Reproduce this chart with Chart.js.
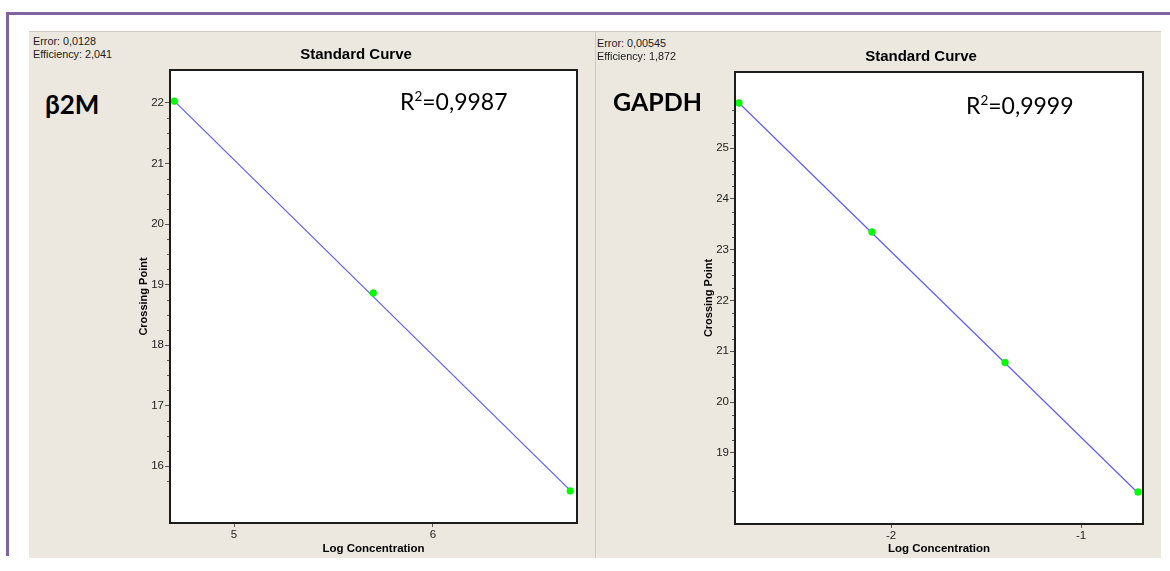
<!DOCTYPE html>
<html>
<head>
<meta charset="utf-8">
<script src="https://cdn.jsdelivr.net/npm/chart.js@4.4.1/dist/chart.umd.min.js"></script>
<style>
  html, body { margin:0; padding:0; background:#fff; }
  body { width:1170px; height:571px; position:relative; overflow:hidden; }
  .abs { position:absolute; }
  .frameTop { left:6px; top:12px; width:1164px; height:3px; background:#8064a2; }
  .frameLeft { left:6px; top:12px; width:3px; height:544px; background:#8064a2; }
  .panel { background:#ede8df; border-top:1px solid #d2cec6; box-sizing:border-box; }
  .info { font-family:"Liberation Sans", Arial, sans-serif; font-size:10.8px; line-height:1; color:#1a1a1a; white-space:nowrap; }
  .gene { font-family:Lato, "Open Sans", sans-serif; font-weight:bold; font-size:25px; line-height:1; color:#000; white-space:nowrap; }
  .r2 { font-family:Lato, "Open Sans", sans-serif; font-size:23px; line-height:1; color:#000; white-space:nowrap; }
  .r2 .sup { font-size:13.5px; position:relative; top:-9.5px; }
  canvas { position:absolute; }
</style>
</head>
<body>
<div class="abs frameTop"></div>
<div class="abs frameLeft"></div>

<div class="abs panel" style="left:29px;top:31px;width:566px;height:527px;"></div>
<div class="abs panel" style="left:595px;top:31px;width:566px;height:527px;border-left:1px solid #cdc9c1;"></div>

<canvas id="cB2M" width="459" height="526" style="left:135px;top:32px;"></canvas>
<canvas id="cGAPDH" width="462" height="526" style="left:699px;top:32px;"></canvas>

<div class="abs info" style="left:33px;top:36px;">Error: 0,0128</div>
<div class="abs info" style="left:33px;top:49px;">Efficiency: 2,041</div>
<div class="abs gene" style="left:45px;top:91px;font-size:26px;">β2M</div>
<div class="abs r2" style="left:400px;top:90px;">R<span class="sup">2</span>=0,9987</div>

<div class="abs info" style="left:597px;top:38px;">Error: 0,00545</div>
<div class="abs info" style="left:597px;top:51px;">Efficiency: 1,872</div>
<div class="abs gene" style="left:613px;top:89px;">GAPDH</div>
<div class="abs r2" style="left:966px;top:94px;">R<span class="sup">2</span>=0,9999</div>

<script>
// ---- data ----
const b2mLogConc   = [4.70, 5.70, 6.69];
const b2mCrossing  = [22.03, 18.86, 15.59];
const b2mFitX      = [4.70, 6.69];
const b2mFitY      = [22.03, 15.60];
const b2mXTicks    = [5, 6];
const b2mYTicks    = [16, 17, 18, 19, 20, 21, 22];
const b2mYMinor    = [15.75, 16.25, 16.5, 16.75, 17.25, 17.5, 17.75, 18.25, 18.5, 18.75,
                      19.25, 19.5, 19.75, 20.25, 20.5, 20.75, 21.25, 21.5, 21.75];

const gapdhLogConc  = [-2.80, -2.10, -1.40, -0.70];
const gapdhCrossing = [25.89, 23.35, 20.78, 18.23];
const gapdhFitX     = [-2.80, -0.70];
const gapdhFitY     = [25.89, 18.21];
const gapdhXTicks   = [-2, -1];
const gapdhYTicks   = [19, 20, 21, 22, 23, 24, 25];
const gapdhYMinor   = [18.25, 18.5, 18.75, 19.25, 19.5, 19.75, 20.25, 20.5, 20.75, 21.25, 21.5, 21.75,
                       22.25, 22.5, 22.75, 23.25, 23.5, 23.75, 24.25, 24.5, 24.75, 25.25, 25.5, 25.75];

const SANS = '"Liberation Sans", Arial, sans-serif';

function makeChart(id, cfg) {
  const framePlugin = {
    id: 'frame' + id,
    beforeDraw(chart) {
      const {ctx, chartArea: a} = chart;
      ctx.save();
      ctx.fillStyle = '#ffffff';
      ctx.fillRect(a.left, a.top, a.right - a.left, a.bottom - a.top);
      ctx.restore();
    },
    afterDraw(chart) {
      const {ctx, chartArea: a} = chart;
      const ys = chart.scales.y;
      ctx.save();
      ctx.strokeStyle = '#555';
      ctx.lineWidth = 1;
      ctx.beginPath();
      cfg.yMinor.forEach(v => {
        const py = Math.round(ys.getPixelForValue(v)) + 0.5;
        ctx.moveTo(a.left - 3, py);
        ctx.lineTo(a.left, py);
      });
      ctx.stroke();
      ctx.strokeStyle = '#1c1c1c';
      ctx.lineWidth = 2;
      ctx.strokeRect(a.left, a.top, a.right - a.left, a.bottom - a.top);
      ctx.restore();
    }
  };
  return new Chart(document.getElementById(id), {
    type: 'scatter',
    data: {
      datasets: [
        {
          label: 'points',
          data: cfg.x.map((v, i) => ({x: v, y: cfg.y[i]})),
          pointStyle: 'circle',
          pointRadius: 3.4,
          pointBackgroundColor: '#00ff00',
          pointBorderColor: '#00ee00',
          pointBorderWidth: 0.5,
          showLine: false
        },
        {
          label: 'fit',
          data: cfg.fitX.map((v, i) => ({x: v, y: cfg.fitY[i]})),
          showLine: true,
          pointRadius: 0,
          borderColor: '#5c5cff',
          borderWidth: 1.2,
          fill: false
        }
      ]
    },
    options: {
      responsive: false,
      animation: false,
      devicePixelRatio: 1,
      events: [],
      layout: {padding: {left: 0, right: cfg.padRight, top: 0, bottom: 0}},
      plugins: {
        legend: {display: false},
        tooltip: {enabled: false},
        title: {
          display: true,
          text: 'Standard Curve',
          color: '#000',
          font: {family: SANS, size: 15, weight: 'bold'},
          padding: {top: cfg.titleTop, bottom: cfg.titleBottom}
        }
      },
      scales: {
        x: {
          type: 'linear',
          position: 'bottom',
          min: cfg.xMin,
          max: cfg.xMax,
          afterBuildTicks: s => { s.ticks = cfg.xTicks.map(v => ({value: v})); },
          afterFit: s => { s.height = cfg.xAxisH; },
          ticks: {callback: v => String(v), color: '#222', font: {family: SANS, size: 11.5}, padding: 1, maxRotation: 0, autoSkip: false},
          grid: {display: true, drawOnChartArea: false, drawTicks: true, tickLength: 4, tickColor: '#555'},
          border: {display: false},
          title: {display: true, text: 'Log Concentration', color: '#000',
                  font: {family: SANS, size: 11.5, weight: 'bold'}, padding: {top: 0, bottom: 2}}
        },
        y: {
          type: 'linear',
          position: 'left',
          min: cfg.yMin,
          max: cfg.yMax,
          afterBuildTicks: s => { s.ticks = cfg.yTicks.map(v => ({value: v})); },
          afterFit: s => { s.width = cfg.yAxisW; },
          ticks: {callback: v => String(v), color: '#222', font: {family: SANS, size: 11.5}, padding: 1, autoSkip: false},
          grid: {display: true, drawOnChartArea: false, drawTicks: true, tickLength: 5, tickColor: '#555'},
          border: {display: false},
          title: {display: true, text: 'Crossing Point', color: '#000',
                  font: {family: SANS, size: 11, weight: 'bold'}, padding: {top: cfg.yTitlePad, bottom: 0}}
        }
      }
    },
    plugins: [framePlugin]
  });
}

makeChart('cB2M', {
  x: b2mLogConc, y: b2mCrossing, fitX: b2mFitX, fitY: b2mFitY,
  xTicks: b2mXTicks, yTicks: b2mYTicks, yMinor: b2mYMinor,
  xMin: 4.678, xMax: 6.724, yMin: 15.06, yMax: 22.545,
  padRight: 17, xAxisH: 35, yAxisW: 35, yTitlePad: 2.4,
  titleTop: 14, titleBottom: 6
});

makeChart('cGAPDH', {
  x: gapdhLogConc, y: gapdhCrossing, fitX: gapdhFitX, fitY: gapdhFitY,
  xTicks: gapdhXTicks, yTicks: gapdhYTicks, yMinor: gapdhYMinor,
  xMin: -2.821, xMax: -0.674, yMin: 17.60, yMax: 26.50,
  padRight: 18, xAxisH: 34, yAxisW: 36, yTitlePad: 3.4,
  titleTop: 16, titleBottom: 6
});
</script>
</body>
</html>
